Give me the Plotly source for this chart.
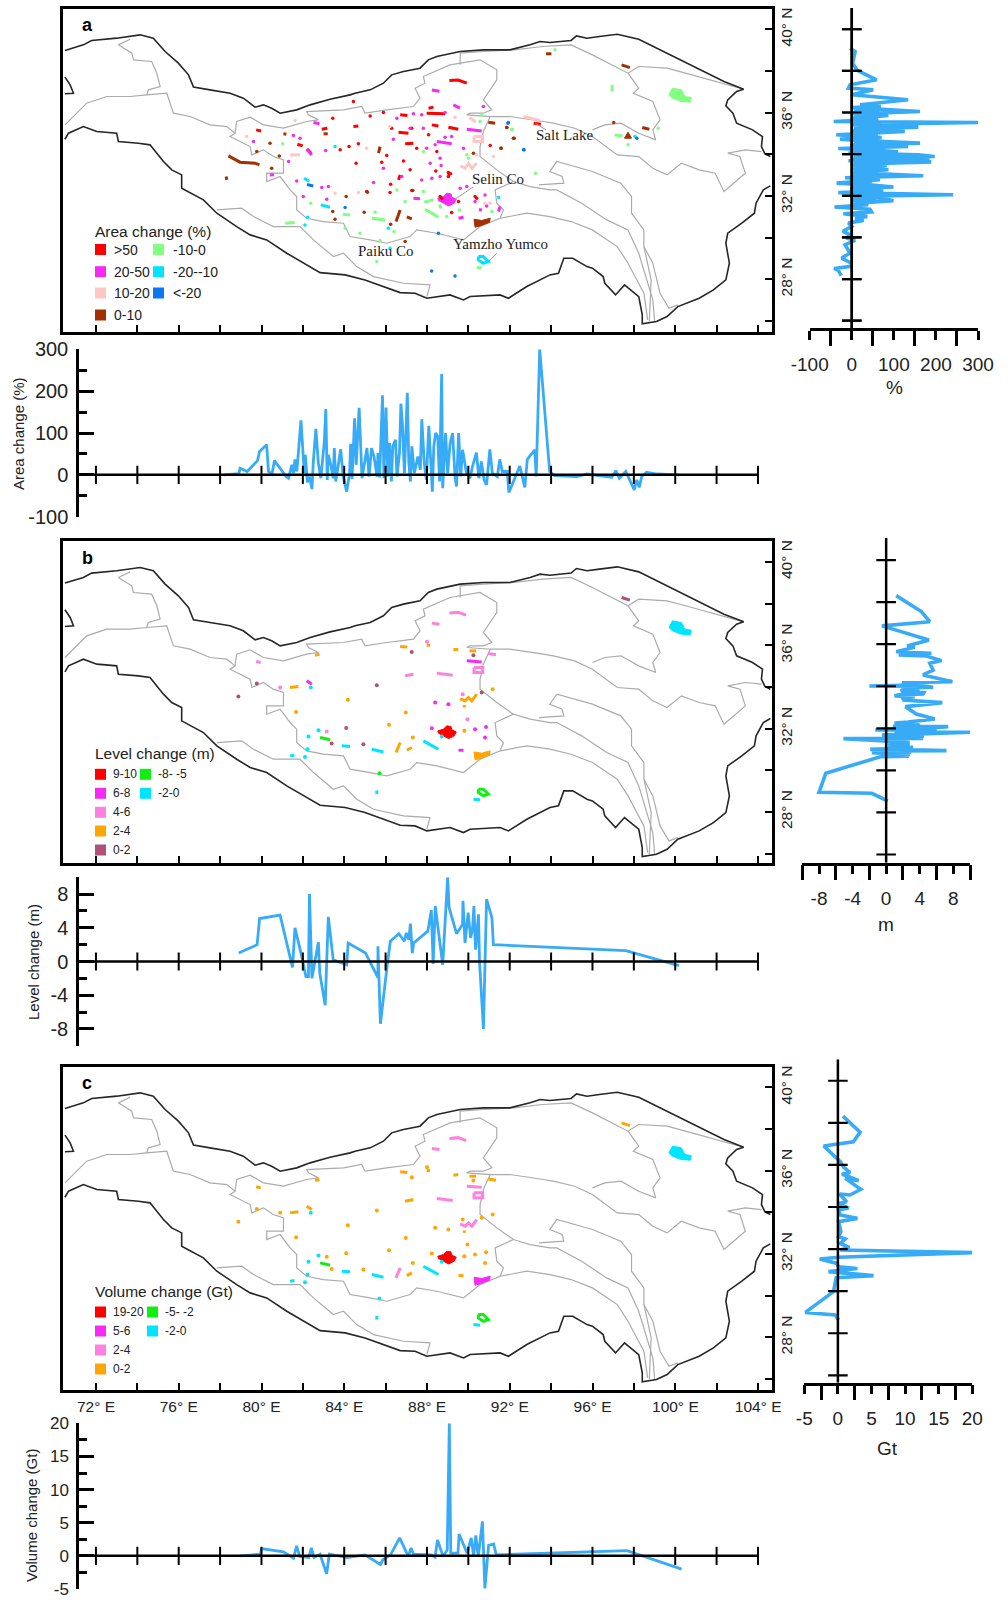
import plotly.graph_objects as go

# ---------------- map outlines (lon, lat) ----------------
outer_lon = [70.5,71.39,71.79,73.0,74.13,74.77,75.34,75.98,76.47,76.71,77.51,78.48,79.12,79.69,80.09,80.49,80.9,81.7,82.35,83.31,84.28,84.52,85.25,85.89,86.29,86.86,87.66,88.06,88.47,89.6,90.72,92.0,92.98,93.46,93.94,94.96,95.22,95.73,96.33,97.19,98.23,99.26,100.12,101.15,102.35,103.3,102.96,102.53,102.44,102.78,102.96,103.73,104.21,104.16,104.33,104.59,None,
 104.59,104.25,103.9,103.82,103.21,102.53,102.44,102.61,102.44,101.84,101.15,100.12,99.6,99.09,98.4,98.4,98.23,97.54,97.11,96.59,96.51,95.99,95.73,95.04,94.61,94.35,93.94,92.82,91.93,91.53,90.08,89.76,89.11,87.99,87.42,86.7,85.0,84.04,82.83,82.18,81.22,80.25,79.45,78.8,77.84,77.19,76.14,76.14,75.66,75.26,74.61,74.05,73.08,73.0,72.04,71.39,70.67,70.5,None,70.5,70.75,70.91,70.5]
outer_lat = [38.98,39.25,39.46,39.57,39.73,39.57,38.93,38.37,37.81,37.22,37.09,36.93,36.69,36.26,36.37,36.21,35.97,36.13,36.37,36.64,36.85,36.93,37.09,37.41,37.81,37.97,38.13,38.53,38.69,38.93,39.01,39.01,39.25,39.41,39.36,39.46,39.68,39.57,39.65,39.76,39.52,39.01,38.56,38.05,37.49,37.12,37.01,36.61,36.32,35.97,35.49,35.17,34.85,34.37,34.02,33.89,None,
 32.48,32.29,31.65,31.17,30.69,30.21,29.73,28.77,27.97,27.49,27.09,26.69,26.21,25.97,25.86,26.29,27.17,27.73,27.25,27.81,28.13,28.53,28.61,29.01,29.01,28.29,28.21,27.65,27.09,27.25,27.17,27.01,27.25,27.09,27.33,27.36,27.97,28.21,28.32,28.69,29.25,29.89,30.13,30.53,31.17,31.81,32.37,33.01,33.25,33.65,34.45,34.53,34.61,35.01,35.09,35.33,35.01,34.72,None,37.7,37.33,36.93,36.9]

basin_lon = [73.65,73.08,73.73,73.81,74.69,74.94,75.1,74.53,74.45,None,
 70.5,70.91,71.55,72.52,73.65,74.45,75.42,75.74,76.55,77.51,78.32,78.72,78.48,79.45,79.53,80.09,80.57,81.06,81.06,80.25,80.25,80.9,81.38,81.7,81.7,82.18,82.99,83.96,84.28,85.25,86.05,87.18,87.5,88.47,89.76,90.56,91.53,91.69,91.37,91.29,92.17,92.98,93.94,94.27,95.47,96.68,97.71,98.23,98.91,99.0,None,
 78.72,78.8,79.45,80.09,81.06,82.18,82.75,82.27,82.18,83.96,84.84,85.0,86.05,87.34,87.66,87.42,87.9,87.82,89.11,90.56,91.37,91.37,90.72,91.13,90.72,90.08,89.92,91.05,90.72,90.56,90.56,91.37,92.17,None,
 77.84,79.04,79.61,80.57,81.86,82.51,83.47,83.96,84.6,85.41,86.86,88.14,87.99,None,
 91.05,92.0,93.62,94.1,95.13,95.99,97.19,98.23,98.91,99.6,100.29,101.15,101.92,102.35,103.38,103.12,102.53,103.38,104.16,None,
 91.53,92.82,93.94,94.96,95.99,97.19,97.71,98.48,98.66,None,
 93.41,94.61,94.53,93.93,94.27,95.99,97.36,97.88,97.88,98.48,98.48,98.83,98.74,None,
 98.48,98.91,99.26,99.69,100.12,None,
 89.6,89.6,90.72,92.21,93.58,94.96,95.99,97.71,98.23,99.6,100.8,102.18,103.3,None,
 97.71,98.23,97.97,98.91,99.26,98.91,99.05,98.23,97.37,96.59,95.99]
basin_lat = [39.52,39.25,38.85,38.53,38.45,37.89,37.25,37.09,36.85,None,
 35.41,35.81,36.45,36.77,36.77,36.85,36.93,35.97,35.81,35.41,35.33,35.01,34.85,34.37,33.97,34.21,33.89,33.73,33.09,33.09,32.69,32.93,32.29,31.97,31.33,30.93,30.77,30.69,30.05,29.89,29.73,30.05,30.37,30.21,29.89,30.53,30.93,31.33,31.65,32.29,32.69,32.45,32.29,32.29,31.65,30.85,30.37,29.25,27.01,25.97,None,
 35.01,35.57,35.78,35.41,35.25,35.57,35.65,35.89,36.05,36.13,36.29,35.97,36.13,36.29,36.69,37.17,37.41,37.73,38.29,38.53,38.05,37.57,36.61,36.13,35.97,35.97,35.89,35.81,35.09,34.37,33.89,33.25,32.69,None,
 31.33,31.41,31.01,30.53,30.53,29.89,29.09,29.25,28.61,28.13,27.81,27.73,27.17,None,
 35.81,35.81,35.57,35.49,35.25,34.85,33.97,33.89,33.33,33.01,33.57,33.25,33.09,32.21,33.09,33.89,34.05,34.21,34.13,None,
 30.93,31.17,31.01,30.77,30.37,29.57,28.77,27.33,26.05,None,
 32.53,32.61,32.93,33.17,33.65,33.17,32.61,31.97,31.17,30.37,29.57,27.97,25.97,None,
 29.57,28.77,27.33,26.61,26.77,None,
 38.29,38.85,38.93,39.01,39.17,39.25,38.77,37.89,38.21,38.13,37.81,37.41,37.12,None,
 37.89,37.17,36.93,36.53,35.65,35.17,34.69,35.01,35.49,35.41,35.17]

# ---------------- panel a: lakes by class ----------------
selin_lon = [88.52,88.79,88.95,89.15,89.2,89.41,89.31,89.04,88.79,88.55]
selin_lat = [31.89,31.97,32.13,32.1,31.94,31.84,31.65,31.52,31.65,31.78]
qinghai_lon = [99.69,99.86,100.29,100.46,100.77,100.72,100.29,99.86]
qinghai_lat = [36.85,37.17,37.09,36.77,36.72,36.5,36.53,36.69]
namco_lon = [90.27,90.64,91.05,91.02,90.56,90.32]
namco_lat = [30.88,30.82,30.93,30.74,30.56,30.5]

a_red_line_lon = [89.08,89.5,89.92,None,79.74,79.98,None,82.91,83.18,None,84.44,84.68,None,88.23,88.55,None,89.03,89.51,None,86.62,87.1,None,86.94,87.34,None,81.73,81.99,None,86.7,87.05,None,87.98,88.87,None,88.07,88.31,None,86.7,86.62,None,93.15,93.5,None,82.2,82.4,None,89.0,89.2]
a_red_line_lat = [37.54,37.56,37.41,None,35.17,35.12,None,35.2,35.25,None,35.33,35.36,None,35.41,35.36,None,35.3,35.2,None,35.06,35.01,None,34.5,34.53,None,34.48,34.4,None,35.89,35.86,None,35.97,35.94,None,36.21,36.26,None,33.01,32.77,None,35.49,35.44,None,34.25,34.05,None,33.0,33.1]
a_red_dot_lon = [84.44,83.44,85.25,85.89,83.8,84.23,84.68,86.05,85.81,86.86,84.57,87.18,86.24,85.08,86.21,88.47,88.42,89.03,89.19,91.05,90.4,89.52,90.32,88.71,87.26,87.5,88.07,87.26,86.29,89.03]
a_red_dot_lat = [36.53,35.73,35.84,36.0,34.21,34.37,34.5,33.94,33.62,33.68,33.57,33.25,32.56,32.21,32.16,34.13,33.2,33.12,31.2,34.42,31.89,31.73,31.97,31.89,32.26,34.29,34.93,35.25,35.25,32.93]

a_mag_line_lon = [88.23,88.6,None,89.27,89.59,None,89.92,90.64,None,88.47,89.19,None,82.51,82.8,None,82.18,82.43,None,87.34,87.66,None,89.52,89.76,None,91.53,91.45,None,90.56,90.6,None,80.4,80.6]
a_mag_line_lat = [37.08,37.02,None,36.37,36.21,None,35.2,35.12,None,34.61,34.5,None,35.52,35.46,None,34.24,33.97,None,31.89,31.86,None,30.93,30.98,None,31.49,31.25,None,31.26,31.4,None,33.01,33.01]
a_mag_dot_lon = [81.54,81.86,79.61,83.1,81.31,81.7,82.02,83.15,83.23,82.91,85.41,87.74,88.23,88.63,88.15,88.63,88.68,89.19,88.87,88.39,87.82,87.18,89.76,90.8,90.32,90.88,89.6,89.92,87.74,87.34,86.54,88.87,90.72,86.78,86.37,87.98,85.89]
a_mag_dot_lat = [34.9,34.77,34.61,34.18,33.65,32.72,31.97,31.84,32.45,32.4,32.64,32.77,32.85,32.93,33.57,33.81,33.46,34.85,34.82,34.45,35.25,35.25,34.29,32.05,31.73,31.52,32.37,32.45,35.89,35.94,35.73,36.0,36.29,32.93,34.72,34.29,33.33]

a_pink_line_lon = [81.38,81.86,None,89.6,89.84,90.0,90.16,90.4,None,90.27,90.69,90.69,90.27,90.27,None,90.05,90.35,None,92.66,93.46]
a_pink_line_lat = [33.97,33.97,None,33.44,33.33,33.57,33.33,33.57,None,34.85,34.85,34.61,34.61,34.85,None,35.75,35.55,None,35.81,35.62]
a_pink_dot_lon = [85.08,84.68,83.55,91.21,91.05,90.8,89.35,86.21,81.62,90.4,79.28]
a_pink_dot_lat = [34.29,32.16,32.13,33.89,31.65,31.65,35.78,35.33,35.62,33.97,34.85]

a_brown_line_lon = [78.4,78.96,79.69,79.9,None,78.29,78.32,None,81.06,81.2,None,83.0,83.2,None,85.73,85.65,None,86.7,86.5,None,87.02,87.26,None,90.96,91.29,None,93.75,94.01,None,97.4,97.8,None,98.4,98.74]
a_brown_line_lat = [33.92,33.62,33.57,33.49,None,32.93,32.77,None,34.98,34.96,None,34.98,34.98,None,34.37,34.05,None,31.33,30.77,None,31.0,30.9,None,35.54,35.49,None,38.82,38.82,None,38.29,38.16,None,35.28,35.2]
a_brown_dot_lon = [80.41,79.77,80.86,80.49,84.09,85.12,83.44,83.55,84.96,86.24,87.31,88.63,91.85,92.17,91.58,90.24,86.94,97.02,92.21,91.57,91.86]
a_brown_dot_lat = [34.53,34.13,33.92,33.33,31.97,32.18,31.25,30.88,31.22,30.64,32.26,31.97,35.28,34.77,34.29,34.05,29.81,35.52,34.77,34.29,35.28]
a_tri_lon = [97.54,97.71,97.88]
a_tri_lat = [34.77,35.06,34.77]

a_green_line_lon = [81.14,81.6,None,85.33,85.98,None,83.93,84.28,None,87.86,88.3,None,87.9,88.55,None,88.6,88.68,None,90.4,90.64,None,96.94,96.94,None,97.06,97.45]
a_green_line_lat = [30.69,30.72,None,30.93,30.85,None,31.12,31.09,None,31.7,31.81,None,31.36,30.98,None,31.6,31.4,None,28.56,28.54,None,37.33,37.01,None,34.93,34.88]
a_green_dot_lon = [86.4,84.76,85.57,84.04,92.09,90.56,90.0,89.92,82.38,81.02,89.56,91.13,90.64,86.54,86.94,87.82,87.82,85.49,88.95,85.73,97.71,93.24,99.17,92.12,94.18]
a_green_dot_lat = [30.29,30.21,28.85,30.45,35.17,35.57,33.81,33.97,31.65,34.5,31.33,31.25,35.89,32.29,31.73,32.21,34.13,31.22,31.01,29.86,34.45,33.09,35.25,35.2,39.01]

a_cyan_line_lon = [82.86,83.31,None,82.05,82.3,None,91.45,91.47,None,90.48,90.72,90.96,90.72,90.48,90.48]
a_cyan_line_lat = [31.57,31.46,None,32.85,32.7,None,32.0,31.85,None,29.09,29.09,28.85,28.77,28.93,29.09]
a_cyan_dot_lon = [82.23,82.1,86.13,86.21,83.55,98.05]
a_cyan_dot_lat = [30.98,30.61,30.45,29.49,34.37,34.85]
a_blue_line_lon = [82.2,82.5]
a_blue_line_lat = [32.55,32.48]
a_blue_dot_lon = [84.04,91.93,92.66,88.22,89.35,88.55,98.14,92.69,91.91]
a_blue_dot_lat = [31.44,35.52,34.21,28.4,28.16,30.21,34.77,34.21,35.49]

# ---------------- panels b, c: the same lakes, different classes ----------------
lake_lon = [[89.08,89.5,89.89],[88.23,88.6],[79.74,79.96],[90.27,90.69,90.69,90.27,90.27],[86.94,87.34],[88.47,89.24],[90.96,91.33],[89.92,90.64],[90.05,90.37],[89.27,89.51],[86.7,87.05],[87.98,88.15],[82.59,82.8],[81.38,81.78],[82.18,82.43],[82.38],[89.6,89.84,90.0,90.16,90.4],[89.8,89.8],[91.17],[84.17],[81.67],[86.97],[86.16],[89.8],[87.31],[86.7,86.5],[87.02,87.26],[87.26],[90.24],[79.77],[78.88],[85.57],[84.09],[83.39],[84.92],[90.64],[88.39],[89.03],[88.23],[89.52,89.76],[90.85],[90.32],[90.8],[80.9],[89.72],[89.95],[83.15],[82.83,83.31],[85.7],[90.48,90.72,90.96,90.72,90.48,90.48],[87.82,88.55],[88.71],[83.88,84.28],[85.33,85.89],[81.38,81.59],[82.1],[82.22],[82.27],[82.75],[85.57,85.57],[90.24,90.56],[97.4,97.8],[88.0]]
lake_lat = [[37.54,37.58,37.44],[37.06,37.01],[35.22,35.17],[34.93,34.93,34.69,34.69,34.93],[34.53,34.61],[34.66,34.56],[35.6,35.54],[35.25,35.2],[35.73,35.73],[35.78,35.81],[35.94,35.91],[36.0,36.0],[35.52,35.57],[33.97,34.02],[34.29,34.13],[33.97],[33.44,33.33,33.49,33.33,33.65],[33.01,33.13],[33.89],[33.38],[32.8],[32.77],[32.18],[31.89],[31.57],[31.33,30.85],[30.96,31.09],[35.68],[35.52],[34.16],[33.54],[34.08],[32.03],[31.28],[31.25],[33.73],[33.25],[33.17],[32.02],[30.96,30.96],[32.08],[31.97],[31.57],[33.97],[33.65],[32.45],[31.86],[31.57,31.46],[29.86],[29.09,29.09,28.85,28.77,28.93,29.09],[31.41,31.01],[31.62],[31.17,31.14],[31.01,30.88],[30.69,30.72],[30.64],[31.01],[31.62],[31.92],[28.85,29.03],[28.61,28.58],[38.29,38.16],[36.16]]
lake_class_b = ["pink","pink","pink","pink","pink","pink","pink","magenta","orange","orange","orange","orange","orange","orange","magenta","cyan","orange","orange","orange","orange","orange","orange","orange","orange","orange","orange","orange","mauve","mauve","mauve","mauve","mauve","mauve","mauve","mauve","mauve","magenta","magenta","magenta","magenta","magenta","magenta","magenta","pink","pink","pink","pink","green","green","green","cyan","cyan","cyan","cyan","cyan","cyan","cyan","cyan","cyan","cyan","cyan","mauve","pink"]
lake_class_c = ["pink","pink","orange","pink","orange","pink","orange","pink","orange","orange","orange","orange","orange","orange","orange","cyan","pink","orange","orange","orange","orange","orange","orange","orange","orange","pink","orange","orange","orange","orange","orange","orange","orange","orange","orange","orange","orange","orange","orange","orange","orange","orange","orange","orange","orange","orange","orange","green","cyan","green","cyan","cyan","cyan","cyan","cyan","cyan","cyan","cyan","cyan","cyan","cyan","orange","orange"]

# ---------------- line series ----------------
area_lon = [78.18,78.9,78.97,79.31,79.81,79.91,80.25,80.34,80.51,80.63,81.19,81.31,81.47,81.55,81.62,81.71,81.91,82.07,82.12,82.22,82.32,82.44,82.51,82.63,82.75,82.87,83.04,83.11,83.18,83.23,83.35,83.47,83.52,83.59,83.83,83.95,84.12,84.26,84.31,84.38,84.5,84.58,84.72,84.86,85.1,85.2,85.32,85.44,85.59,85.63,85.71,85.85,85.92,86.02,86.11,86.19,86.28,86.35,86.48,86.55,86.67,86.74,86.81,86.91,87.05,87.12,87.2,87.27,87.39,87.56,87.68,87.75,87.87,87.97,88.09,88.26,88.33,88.42,88.52,88.61,88.71,88.76,88.9,89.0,89.12,89.24,89.36,89.43,89.53,89.63,89.72,89.91,90.08,90.2,90.39,90.51,90.63,90.76,90.88,91.04,91.16,91.4,91.52,91.64,91.88,91.96,92.49,92.73,92.85,93.21,93.28,93.45,93.93,94.17,95.25,95.73,96.93,97.13,97.3,97.61,98.02,98.14,98.26,98.38,98.62,99.1,100.18]
area_val = [0,3,16,8,34,56,72,8,2,34,-4,-8,24,4,37,8,130,4,48,-18,-4,-34,34,110,28,-8,80,157,-12,48,24,-8,64,-16,61,-4,-40,4,74,-10,135,24,160,-8,64,-4,64,44,-4,52,-6,190,-8,161,-4,76,-16,68,84,-4,52,170,123,4,196,32,-16,68,4,44,12,133,28,-12,117,-40,68,100,92,-16,241,-32,100,4,76,100,-8,-28,100,-4,60,4,-8,20,53,-8,32,-12,-24,61,4,-4,37,8,8,-42,21,-30,37,60,-4,300,8,-2,-4,2,-6,10,-8,8,-36,-12,-30,-4,6,2,0]

area_lat = [39.09,38.93,38.37,38.02,37.57,37.33,37.17,37.09,36.85,36.61,36.37,36.29,36.21,36.05,35.94,35.86,35.73,35.68,35.57,35.52,35.44,35.36,35.3,35.2,35.09,34.98,34.93,34.88,34.8,34.72,34.64,34.53,34.43,34.37,34.27,34.21,34.11,34.05,33.97,33.89,33.81,33.76,33.68,33.63,33.54,33.46,33.36,33.25,33.15,33.06,32.96,32.87,32.77,32.67,32.61,32.53,32.42,32.32,32.24,32.15,32.05,31.97,31.89,31.76,31.65,31.57,31.46,31.36,31.23,31.14,31.01,30.91,30.82,30.69,30.53,30.29,30.13,29.97,29.86,29.65,29.25,29.01,28.77,28.61,28.51,28.42,28.16]
area_val_lat = [-4,8,2,13,59,-4,-8,51,0,134,20,69,24,162,20,87,12,63,-43,300,43,126,158,16,126,16,-37,-4,71,-28,36,162,-4,134,-32,43,110,-8,158,197,4,185,-8,189,43,83,36,87,4,67,170,-16,67,4,-36,43,99,-4,75,-32,241,-4,71,99,12,39,-41,43,47,-20,37,8,28,-8,0,-21,-4,-13,8,-16,-4,-24,-2,-2,-42,-32,-25]
# the dense middle of the same profile
area_dense_lat = [36.3,36.24,36.18,36.1,36.03,35.96,35.9,35.82,35.76,35.7,35.62,35.55,35.48,35.42,35.35,35.27,35.2,35.13,35.06,35.0,34.93,34.86,34.79,34.72,34.65,34.58,34.51,34.44,34.37,34.3,34.23,34.16,34.09,34.02,33.95,33.88,33.81,33.74,33.67,33.6,33.53,33.46,33.39,33.32,33.25,33.18,33.11,33.04,32.97,32.9,32.83,32.76,32.69,32.62,32.55,32.48,32.41,32.34,32.27,32.2,32.13,32.06,31.99,31.92,31.85,31.78,31.71,31.64]
area_dense_val = [60,2,70,5,65,3,75,4,62,2,58,3,70,2,90,5,80,2,70,4,62,3,58,2,65,5,70,3,60,2,68,4,72,3,75,5,78,2,75,4,70,2,65,3,68,4,62,2,58,5,60,2,48,3,35,2,55,4,60,2,65,4,62,3,58,2,52,3]

level_lon = [78.9,79.79,79.91,80.9,81.5,81.62,81.91,82.15,82.27,82.32,82.44,82.75,82.82,83.08,83.23,83.47,84.12,84.19,85.03,85.63,85.63,85.75,86.07,86.23,86.64,86.91,87.0,87.12,87.2,87.29,87.36,88.04,88.21,88.3,88.4,88.76,89.0,89.07,89.43,89.72,89.74,89.84,89.99,90.11,90.2,90.27,90.35,90.49,90.54,90.73,90.88,91.14,91.21,97.61,100.18]
level_val = [1.0,2,5.1,5.5,-0.7,4,1,-1.8,-1.8,8,-2,2.3,-1.4,-5.2,5.3,0.2,-0.4,2.2,1,-1.9,1.8,-7.4,-0.6,2.4,3.3,2.4,3.4,2.6,4.5,1,2.2,3.6,6.1,-0.3,6.6,-0.4,10,6.4,3.3,4.4,7.2,2.2,5.8,2.8,3.8,6.6,1.4,5.6,0,-8,7.4,5.2,2,1.3,-0.5]

level_lat = [38.31,37.55,37.07,36.87,36.2,35.91,35.85,35.64,35.57,35.49,35.44,35.22,35.09,34.77,34.54,34.22,34.17,34.1,34.05,34.01,34.0,33.95,33.92,33.87,33.82,33.77,33.7,33.63,33.6,33.54,33.5,33.43,33.35,33.22,33.03,32.68,32.44,32.3,32.25,32.2,32.15,32.1,32.08,32.0,31.95,31.92,31.92,31.87,31.82,31.81,31.75,31.7,31.68,31.63,31.57,31.52,31.51,31.41,31.32,31.27,31.2,31.15,31.1,31.08,31.03,31.0,30.98,30.94,30.92,30.87,30.84,30.8,30.78,30.75,30.72,30.7,30.68,30.65,29.86,28.96,28.91,28.54]
level_val_lat = [1.2,4.2,5.2,-0.5,5.1,2.5,3.4,1.2,5.4,1.5,4.8,6.6,5.2,5.6,4.4,7.9,1.9,4.5,1.8,-2,4.8,5.6,2,4,1.9,1.8,4.5,4.4,1.5,1,3.4,2,2.1,6.7,2.3,3.6,5.8,2.6,1,2.5,4,.8,7.4,5,.5,-1.3,5.2,6,1,10,5,.5,-0.5,4.5,.3,4.4,-5.1,-0.7,2.8,0.2,2.8,.2,3.2,3,.2,-1.9,2.9,7.2,.1,3,-1.7,.2,2.6,2.8,0.2,.1,2.7,-0.7,-7.2,-8,-1.7,0.2]

vol_lon = [78.96,79.95,80.0,81.06,81.55,81.7,81.85,82.29,82.41,82.54,82.83,83.15,83.28,84.14,85.0,85.75,85.87,86.24,86.68,87.1,87.23,87.35,88.21,88.39,88.51,88.78,88.98,89.08,89.15,89.5,89.55,89.94,90.14,90.26,90.36,90.48,90.68,90.8,90.98,91.22,91.35,97.67,100.31]
vol_val = [0,.25,1.1,.6,-.35,1.5,-.1,-.25,1.2,-.25,.25,-2.7,.25,-.25,.15,-1.3,-.6,.15,2.7,-.1,1.2,.25,.15,-.2,2.4,-.1,.9,20,.4,.4,3.3,.4,2.7,-.1,3.1,-.1,5.2,-4.9,1.6,1.8,.15,.8,-2]

vol_lat = [38.32,37.55,37.1,36.9,36.15,35.9,35.63,35.57,35.25,35.36,34.84,34.57,34.62,34.25,34.17,33.95,33.86,33.62,33.46,33.3,32.83,32.59,32.48,32.27,32.08,31.96,31.83,31.61,31.53,31.32,31.16,31.08,30.93,30.74,30.64,29.98,28.99,28.87,28.63]
vol_val_lat = [.75,3.3,2.3,-2.1,.35,.85,1.8,.6,3.1,1.1,3.4,1.8,.25,1.3,.1,1.6,.1,.35,2.9,.1,.45,.1,1.1,.35,1.7,.35,20,.1,-2.7,-.15,.1,2.9,-1.4,5.3,-.25,-.65,-4.85,-.4,.1]

# ---------------- axis labels ----------------
lon_ticks = [72,74,76,78,80,82,84,86,88,90,92,94,96,98,100,102,104]
lon_labels = ["72° E","","76° E","","80° E","","84° E","","88° E","","92° E","","96° E","","100° E","","104° E"]
lat_ticks = [26,28,30,32,34,36,38,40]
lat_labels = ["","28° N","","32° N","","36° N","","40° N"]

COL = dict(red="#FF0000", magenta="#F52BF5", pink="#FF80DF", lightpink="#FFC6C6", brown="#A33000",
           lightgreen="#80FF80", cyan="#00E5FF", blue="#0A78F0", orange="#FFA500", mauve="#AE5078", green="#11EE11")
BLUE = "#38ABF7"
TXT = "#222222"
W, H = 1008, 1600
SANS = "Liberation Sans"

fig = go.Figure()
layout = dict(width=W, height=H, margin=dict(l=0, r=0, t=0, b=0, pad=0, autoexpand=False), autosize=False, showlegend=False,
              paper_bgcolor="white", plot_bgcolor="white", font=dict(family=SANS, color=TXT))
shapes, annos = [], []
n = [0]

def new_axes(x0, x1, y0, y1, xa, ya):
    n[0] += 1
    k = "" if n[0] == 1 else str(n[0])
    layout["xaxis" + k] = dict(domain=[x0 / W, x1 / W], anchor="y" + k, **xa)
    layout["yaxis" + k] = dict(domain=[1 - y1 / H, 1 - y0 / H], anchor="x" + k, **ya)
    return "x" + k, "y" + k

def map_panel(top, bottom, lat_range, labels):
    xa = dict(range=[70.405, 104.67], tickmode="array", tickvals=lon_ticks,
              ticktext=lon_labels if labels else [""] * len(lon_ticks), ticks="inside", ticklen=7, tickwidth=2,
              tickcolor="black", showline=True, mirror=True, linecolor="black", linewidth=3, showgrid=False,
              zeroline=False, tickangle=0, tickfont=dict(size=15.5, color=TXT), ticklabelstandoff=0)
    ya = dict(range=lat_range, side="right", tickmode="array", tickvals=lat_ticks, ticktext=lat_labels, ticks="inside",
              ticklen=7, tickwidth=2, tickcolor="black", showline=True, mirror=True, linecolor="black", linewidth=3,
              showgrid=False, zeroline=False, tickangle=-90, tickfont=dict(size=15.5, color=TXT), ticklabelstandoff=-2)
    ax = new_axes(63, 772, top, bottom, xa, ya)
    fig.add_trace(go.Scatter(x=basin_lon, y=basin_lat, mode="lines", line=dict(color="#ABABAB", width=1.2), xaxis=ax[0], yaxis=ax[1], hoverinfo="skip"))
    fig.add_trace(go.Scatter(x=outer_lon, y=outer_lat, mode="lines", line=dict(color="#262626", width=1.6), xaxis=ax[0], yaxis=ax[1], hoverinfo="skip"))
    return ax

def poly(ax, lon, lat, c):
    fig.add_trace(go.Scatter(x=lon + lon[:1], y=lat + lat[:1], mode="lines", fill="toself", fillcolor=c, line=dict(color=c, width=1), xaxis=ax[0], yaxis=ax[1], hoverinfo="skip"))

def strokes(ax, lon, lat, c, w=3):
    fig.add_trace(go.Scatter(x=lon, y=lat, mode="lines", line=dict(color=c, width=w), xaxis=ax[0], yaxis=ax[1], hoverinfo="skip"))

def dots(ax, lon, lat, c, s=3.5):
    fig.add_trace(go.Scatter(x=lon, y=lat, mode="markers", marker=dict(color=c, size=s, symbol="circle"), xaxis=ax[0], yaxis=ax[1], hoverinfo="skip"))

def draw_classes(ax, classes, palette):
    for cls in palette:
        lx, ly, dx, dy = [], [], [], []
        for lon, lat, c in zip(lake_lon, lake_lat, classes):
            if c != cls:
                continue
            if len(lon) == 1:
                dx += lon; dy += lat
            else:
                lx += lon + [None]; ly += lat + [None]
        strokes(ax, lx, ly, palette[cls])
        dots(ax, dx, dy, palette[cls], 4)

def bottom_panel(top, bottom, yr, major, labels, minor, lon, val, title, title_x, title_y, tick_size=20):
    xa = dict(range=[71.18, 104.05], visible=False)
    ya = dict(range=yr, tickmode="array", tickvals=major, ticktext=labels, ticks="inside", ticklen=15, tickwidth=2.5, tickcolor="black",
              minor=dict(tickmode="array", tickvals=minor, ticks="inside", ticklen=8, tickwidth=2.5, tickcolor="black"),
              showline=True, linecolor="black", linewidth=2.5, showgrid=False, zeroline=False, ticklabeloverflow="allow",
              tickfont=dict(size=tick_size, color=TXT), ticklabelstandoff=4)
    ax = new_axes(79, 759, top, bottom, xa, ya)
    fig.add_trace(go.Scatter(x=lon, y=val, mode="lines", line=dict(color=BLUE, width=2.8, simplify=False), xaxis=ax[0], yaxis=ax[1], hoverinfo="skip"))
    fig.add_trace(go.Scatter(x=[71.18, 104.05], y=[0, 0], mode="lines", line=dict(color="black", width=2.5), xaxis=ax[0], yaxis=ax[1], hoverinfo="skip"))
    fig.add_trace(go.Scatter(x=lon_ticks, y=[0] * len(lon_ticks), mode="markers", marker=dict(symbol="line-ns", size=13, line=dict(color="black", width=2)), xaxis=ax[0], yaxis=ax[1], hoverinfo="skip"))
    annos.append(dict(text=title, x=title_x / W, y=1 - title_y / H, xref="paper", yref="paper", textangle=-90, showarrow=False, font=dict(size=15, color=TXT), xanchor="center", yanchor="middle"))

def right_panel(top, bottom, x0, x1, xr, major, minor, labels, latr, val, lat, unit, ux, uy, standoff):
    xa = dict(range=xr, side="bottom", tickmode="array", tickvals=major, ticktext=labels, ticks="outside", ticklen=9, tickwidth=2.5, tickcolor="black",
              minor=dict(tickmode="array", tickvals=minor, ticks="outside", ticklen=15, tickwidth=2.5, tickcolor="black"),
              showline=True, linecolor="black", linewidth=2.5, showgrid=False, zeroline=False, tickangle=0,
              tickfont=dict(size=19, color=TXT), ticklabelstandoff=standoff)
    ya = dict(range=latr, visible=False)
    ax = new_axes(x0, x1, top, bottom, xa, ya)
    fig.add_trace(go.Scatter(x=val, y=lat, mode="lines", line=dict(color=BLUE, width=3.6, simplify=False), xaxis=ax[0], yaxis=ax[1], hoverinfo="skip"))
    fig.add_trace(go.Scatter(x=[0, 0], y=latr, mode="lines", line=dict(color="black", width=2.5), xaxis=ax[0], yaxis=ax[1], hoverinfo="skip"))
    fig.add_trace(go.Scatter(x=[0] * len(lat_ticks), y=lat_ticks, mode="markers", marker=dict(symbol="line-ew", size=14, line=dict(color="black", width=2.2)), xaxis=ax[0], yaxis=ax[1], hoverinfo="skip"))
    annos.append(dict(text=unit, x=ux / W, y=1 - uy / H, xref="paper", yref="paper", showarrow=False, font=dict(size=19, color=TXT), xanchor="center", yanchor="middle"))
    return ax

def px_text(text, x, y, size, anchor="left", family=SANS, color=TXT, bold=False):
    annos.append(dict(text=("<b>%s</b>" % text) if bold else text, x=x / W, y=1 - y / H, xref="paper", yref="paper", showarrow=False,
                      font=dict(size=size, family=family, color=color), xanchor=anchor, yanchor="middle", xshift=0, yshift=0))

def swatch(x, y, c, label, tx, size):
    shapes.append(dict(type="rect", xref="paper", yref="paper", x0=x / W, x1=(x + 11) / W, y0=1 - (y - 5.5) / H, y1=1 - (y + 5.5) / H, fillcolor=c, line=dict(width=0)))
    px_text(label, tx, y, size)

def leader(x0, y0, x1, y1):
    shapes.append(dict(type="line", xref="paper", yref="paper", x0=x0 / W, x1=x1 / W, y0=1 - y0 / H, y1=1 - y1 / H, line=dict(color="#9A9A9A", width=1)))

# ---- panel a ----
axa = map_panel(9, 332, [25.47, 40.97], False)
poly(axa, selin_lon, selin_lat, COL["magenta"])
poly(axa, qinghai_lon, qinghai_lat, COL["lightgreen"])
poly(axa, namco_lon, namco_lat, COL["brown"])
poly(axa, a_tri_lon, a_tri_lat, COL["brown"])
for lx, ly, dx, dy, c in [
    (a_red_line_lon, a_red_line_lat, a_red_dot_lon, a_red_dot_lat, COL["red"]),
    (a_mag_line_lon, a_mag_line_lat, a_mag_dot_lon, a_mag_dot_lat, COL["magenta"]),
    (a_pink_line_lon, a_pink_line_lat, a_pink_dot_lon, a_pink_dot_lat, COL["lightpink"]),
    (a_brown_line_lon, a_brown_line_lat, a_brown_dot_lon, a_brown_dot_lat, COL["brown"]),
    (a_green_line_lon, a_green_line_lat, a_green_dot_lon, a_green_dot_lat, COL["lightgreen"]),
    (a_cyan_line_lon, a_cyan_line_lat, a_cyan_dot_lon, a_cyan_dot_lat, COL["cyan"]),
    (a_blue_line_lon, a_blue_line_lat, a_blue_dot_lon, a_blue_dot_lat, COL["blue"]),
]:
    strokes(axa, lx, ly, c)
    dots(axa, dx, dy, c)

bottom_panel(349.3, 516.7, [-100, 300], [-100, 0, 100, 200, 300], ["-100", "0", "100", "200", "300"], [-50, 50, 150, 250], area_lon, area_val, "Area change (%)", 18, 434)
ra = right_panel(8, 328, 809.7, 978, [-100, 300], [-100, 0, 100, 200, 300], [-50, 50, 150, 250], ["-100", "0", "100", "200", "300"], [25.65, 41.02], area_val_lat, area_lat, "%", 894, 388, 8)
fig.add_trace(go.Scatter(x=area_dense_val, y=area_dense_lat, mode="lines", line=dict(color=BLUE, width=3.6, simplify=False), xaxis=ra[0], yaxis=ra[1], hoverinfo="skip"))
fig.add_trace(go.Scatter(x=[0, 0], y=[25.65, 41.02], mode="lines", line=dict(color="black", width=2.5), xaxis=ra[0], yaxis=ra[1], hoverinfo="skip"))
fig.add_trace(go.Scatter(x=[0] * len(lat_ticks), y=lat_ticks, mode="markers", marker=dict(symbol="line-ew", size=14, line=dict(color="black", width=2.2)), xaxis=ra[0], yaxis=ra[1], hoverinfo="skip"))

px_text("Area change (%)", 93, 231, 15.5)
for lbl, c, x, tx, y in [(">50", "red", 95, 112, 249.5), ("20-50", "magenta", 95, 112, 271.7), ("10-20", "lightpink", 95, 112, 293), ("0-10", "brown", 95, 112, 315),
                         ("-10-0", "lightgreen", 153, 171, 249.5), ("-20--10", "cyan", 153, 171, 271.7), ("<-20", "blue", 153, 171, 293)]:
    swatch(x, y, COL[c], lbl.replace("<", "&lt;"), tx, 14)
px_text("a", 80, 25, 18, bold=True, color="black")
px_text("Selin Co", 498, 179, 15, "center", "Liberation Serif")
px_text("Paiku Co", 385, 251, 15, "center", "Liberation Serif")
px_text("Yamzho Yumco", 500, 244, 15, "center", "Liberation Serif")
px_text("Salt Lake", 564, 135, 15, "center", "Liberation Serif")
leader(454, 200, 473, 187)
leader(487, 263, 497, 253)
leader(535, 123, 546, 130)

# ---- panel b ----
palette_b = dict(pink=COL["pink"], magenta=COL["magenta"], orange=COL["orange"], mauve=COL["mauve"], green=COL["green"], cyan=COL["cyan"])
axb = map_panel(541, 863, [25.55, 41.0], False)
poly(axb, selin_lon, selin_lat, COL["red"])
poly(axb, qinghai_lon, qinghai_lat, COL["cyan"])
poly(axb, namco_lon, namco_lat, COL["orange"])
draw_classes(axb, lake_class_b, palette_b)

bottom_panel(877.3, 1045.7, [-10, 10], [-8, -4, 0, 4, 8], ["-8", "-4", "0", "4", "8"], [-10, -6, -2, 2, 6, 10], level_lon, level_val, "Level change (m)", 34, 962)
right_panel(538, 862.7, 802.3, 970, [-10, 10], [-8, -4, 0, 4, 8], [-10, -6, -2, 2, 6, 10], ["-8", "-4", "0", "4", "8"], [25.61, 41.05], level_val_lat, level_lat, "m", 886, 924, 8)

px_text("Level change (m)", 93, 754, 15.5)
for lbl, c, x, tx, y in [("9-10", "red", 95, 110.7, 774.3), ("6-8", "magenta", 95, 110.7, 793.3), ("4-6", "pink", 95, 110.7, 812.3), ("2-4", "orange", 95, 110.7, 831), ("0-2", "mauve", 95, 110.7, 850),
                         ("-8- -5", "green", 140, 156, 774.3), ("-2-0", "cyan", 140, 156, 793.3)]:
    swatch(x, y, COL[c], lbl, tx, 12)
px_text("b", 80, 558, 18, bold=True, color="black")

# ---- panel c ----
axc = map_panel(1067, 1390, [25.47, 40.97], True)
poly(axc, selin_lon, selin_lat, COL["red"])
poly(axc, qinghai_lon, qinghai_lat, COL["cyan"])
poly(axc, namco_lon, namco_lat, COL["magenta"])
draw_classes(axc, lake_class_c, palette_b)

bottom_panel(1423.3, 1589, [-5, 20], [-5, 0, 5, 10, 15, 20], ["-5", "0", "5", "10", "15", "20"], [-2.5, 2.5, 7.5, 12.5, 17.5], vol_lon, vol_val, "Volume change (Gt)", 31, 1516, tick_size=17)
right_panel(1059.3, 1382.7, 804.3, 972.3, [-5, 20], [-5, 0, 5, 10, 15, 20], [-2.5, 2.5, 7.5, 12.5, 17.5], ["-5", "0", "5", "10", "15", "20"], [25.65, 41.02], vol_val_lat, vol_lat, "Gt", 887, 1448, 8)

px_text("Volume change (Gt)", 93, 1291, 15.5)
for lbl, c, x, tx, y in [("19-20", "red", 95, 110.7, 1312), ("5-6", "magenta", 95, 110.7, 1331), ("2-4", "pink", 95, 110.7, 1350), ("0-2", "orange", 95, 110.7, 1369),
                         ("-5- -2", "green", 147, 163, 1312), ("-2-0", "cyan", 147, 163, 1331)]:
    swatch(x, y, COL[c], lbl, tx, 12)
px_text("c", 80, 1083, 18, bold=True, color="black")

layout["shapes"] = shapes
layout["annotations"] = annos
fig.update_layout(**layout)
fig.write_html("out.html", config={"displayModeBar": False}, post_script="document.body.style.margin='0';document.documentElement.style.overflow='hidden';")
